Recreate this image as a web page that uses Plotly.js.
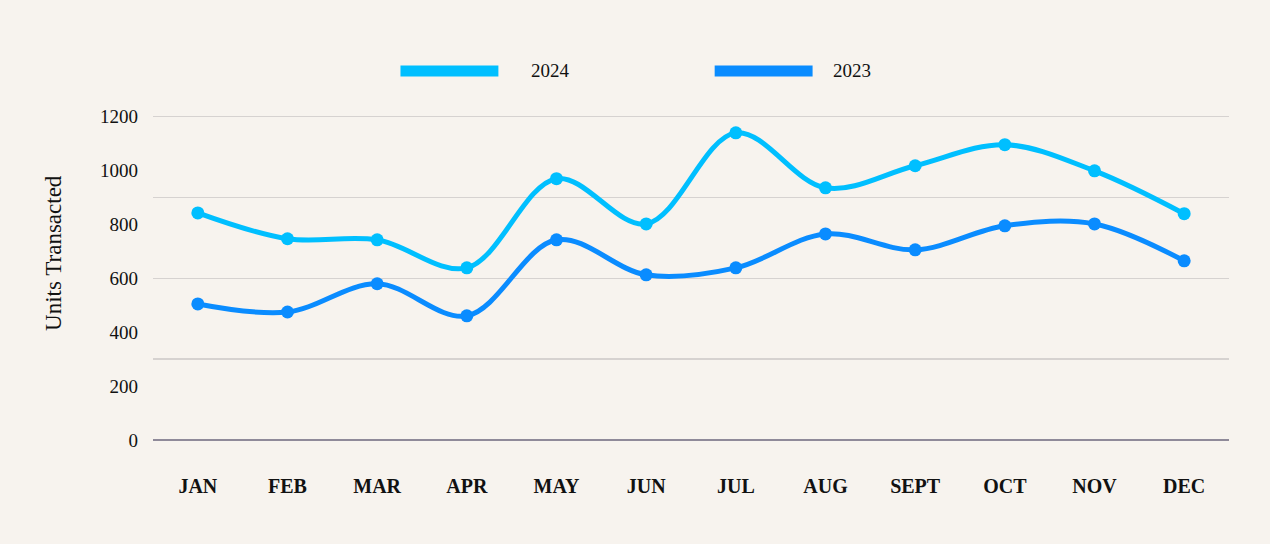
<!DOCTYPE html>
<html>
<head>
<meta charset="utf-8">
<script src="https://cdn.plot.ly/plotly-3.0.1.min.js"></script>
<style>
html,body{margin:0;padding:0;background:#F7F3EE;}
#chart{width:1270px;height:544px;}
</style>
</head>
<body>
<div id="chart"></div>
<script>
const months = ["JAN","FEB","MAR","APR","MAY","JUN","JUL","AUG","SEPT","OCT","NOV","DEC"];
const units2024 = [843, 747, 743, 639, 970, 802, 1140, 936, 1018, 1096, 999, 840];
const units2023 = [505, 475, 580, 461, 743, 613, 639, 765, 706, 795, 802, 665];
const yTicks = [0, 200, 400, 600, 800, 1000, 1200];
const gridVals = [0, 300, 600, 900, 1200];

const FONT = "Liberation Serif, DejaVu Serif, serif";
const C2024 = "#00BFFF";
const C2023 = "#0A8CFF";
const Y_RANGE = [0, 1210];
const LEG_Y = 1.132;

const traces = [
  {x: months, y: units2024, name: "2024", type: "scatter", mode: "lines+markers",
   line: {color: C2024, width: 5, shape: "spline", smoothing: 1},
   marker: {color: C2024, size: 13}, showlegend: false},
  {x: months, y: units2023, name: "2023", type: "scatter", mode: "lines+markers",
   line: {color: C2023, width: 5, shape: "spline", smoothing: 1},
   marker: {color: C2023, size: 13}, showlegend: false},
  // invisible trace to carry the gridline axis
  {x: months, y: units2023, yaxis: "y2", type: "scatter", mode: "none", hoverinfo: "skip", showlegend: false}
];

const layout = {
  width: 1270, height: 544,
  paper_bgcolor: "#F7F3EE", plot_bgcolor: "#F7F3EE",
  margin: {l: 153, r: 41, t: 114, b: 104},
  font: {family: FONT, color: "#111111"},
  xaxis: {
    type: "category", range: [-0.5, 11.5],
    showgrid: false, zeroline: false, showline: false, ticks: "",
    tickfont: {family: FONT, size: 20, weight: "bold", color: "#111111"},
    ticklabelstandoff: 32
  },
  yaxis: {
    range: Y_RANGE, tickvals: yTicks, ticktext: yTicks.map(String),
    showgrid: false, zeroline: false, showline: false, ticks: "",
    tickfont: {family: FONT, size: 19, color: "#111111"},
    ticklabelstandoff: 14
  },
  yaxis2: {
    range: Y_RANGE, overlaying: "y", side: "left",
    tickvals: gridVals, showticklabels: false, ticks: "",
    showgrid: true, gridcolor: "#D6D2D0", gridwidth: 1.5,
    zeroline: true, zerolinecolor: "#8F8A99", zerolinewidth: 1.5
  },
  shapes: [
    {type: "line", xref: "paper", yref: "paper", x0: 0.230, x1: 0.321, y0: LEG_Y, y1: LEG_Y,
     line: {color: C2024, width: 11}},
    {type: "line", xref: "paper", yref: "paper", x0: 0.522, x1: 0.613, y0: LEG_Y, y1: LEG_Y,
     line: {color: C2023, width: 11}}
  ],
  annotations: [
    {text: "2024", xref: "paper", yref: "paper", x: 0.349, y: LEG_Y, xanchor: "left", yanchor: "middle",
     showarrow: false, font: {family: FONT, size: 19, color: "#111111"}},
    {text: "2023", xref: "paper", yref: "paper", x: 0.630, y: LEG_Y, xanchor: "left", yanchor: "middle",
     showarrow: false, font: {family: FONT, size: 19, color: "#111111"}},
    {text: "Units Transacted", xref: "paper", yref: "paper", x: -0.092, y: 0.574, xanchor: "center", yanchor: "middle",
     textangle: -90, showarrow: false, font: {family: FONT, size: 23, color: "#111111"}}
  ]
};

Plotly.newPlot("chart", traces, layout, {displayModeBar: false, staticPlot: true});
</script>
</body>
</html>
